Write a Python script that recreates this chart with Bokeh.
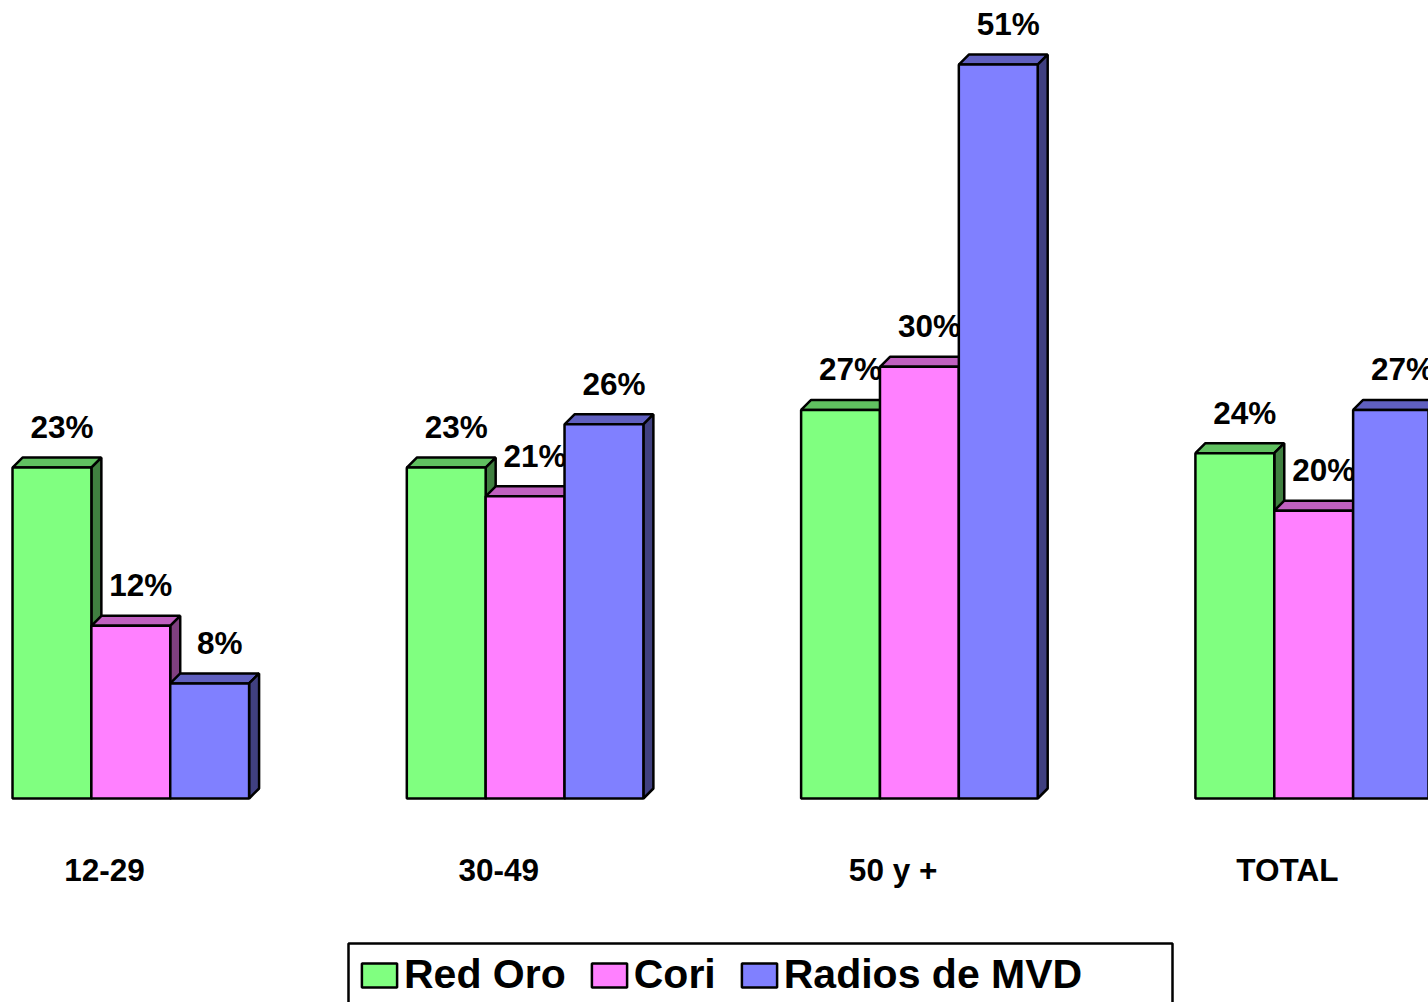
from bokeh.embed import file_html
from bokeh.resources import INLINE
from bokeh.plotting import figure
from bokeh.models import Range1d, Legend, LegendItem, BoxAnnotation
from bokeh.core.properties import value

categories = ["12-29", "30-49", "50 y +", "TOTAL"]
red_oro = [23, 23, 27, 24]
cori = [12, 21, 30, 20]
radios = [8, 26, 51, 27]
series_names = ["Red Oro", "Cori", "Radios de MVD"]
front_colors = ["#80FF80", "#FF80FF", "#8080FF"]
top_colors = ["#60C060", "#C060C0", "#6060C0"]
side_colors = ["#408040", "#804080", "#404080"]

FONT = "Liberation Sans"
PX_PER_X = 394.3
PX_PER_Y = 14.39
BAR_W = 0.2
DX = 10 / PX_PER_X
DY = 10 / PX_PER_Y
GROUP_SHIFT = -0.2333
LW = 2.5

p = figure(width=1428, height=1002, output_backend="svg", toolbar_location=None,
           x_range=Range1d(-104 / PX_PER_X, 1324 / PX_PER_X),
           y_range=Range1d(-204 / PX_PER_Y, 798 / PX_PER_Y),
           x_axis_location=None, y_axis_location=None, min_border=0,
           outline_line_color=None, background_fill_color="white", border_fill_color="white")
p.xgrid.visible = False
p.ygrid.visible = False

all_series = [red_oro, cori, radios]
lefts = [[i + GROUP_SHIFT + k * BAR_W for i in range(len(categories))] for k in range(3)]

p.text(x=list(range(len(categories))), y=[-5.0] * len(categories), text=categories,
       text_font=value(FONT), text_font_style="bold", text_font_size="31.5px",
       text_color="black", text_align="center", text_baseline="middle")

# value labels lie beneath the bars
for k, vals in enumerate(all_series):
    p.text(x=[l + BAR_W / 2 for l in lefts[k]], y=vals, text=[f"{v}%" for v in vals],
           text_font=value(FONT), text_font_style="bold", text_font_size="31.5px",
           text_color="black", text_align="center", text_baseline="alphabetic",
           x_offset=10, y_offset=-40.5)

legend_items = []
for k, vals in enumerate(all_series):
    top_x = [[l, l + DX, l + BAR_W + DX, l + BAR_W] for l in lefts[k]]
    top_y = [[v, v + DY, v + DY, v] for v in vals]
    p.patches(top_x, top_y, fill_color=top_colors[k], line_color="black", line_width=LW)
    side_x = [[l + BAR_W, l + BAR_W + DX, l + BAR_W + DX, l + BAR_W] for l in lefts[k]]
    side_y = [[0, DY, v + DY, v] for v in vals]
    p.patches(side_x, side_y, fill_color=side_colors[k], line_color="black", line_width=LW)
    r = p.vbar(x=[l + BAR_W / 2 for l in lefts[k]], width=BAR_W, bottom=0, top=vals,
               fill_color=front_colors[k], line_color="black", line_width=LW)
    legend_items.append(LegendItem(label=value(series_names[k]), renderers=[r]))

legend = Legend(items=legend_items, orientation="horizontal", location=(357, 4),
                glyph_width=44, glyph_height=30, label_standoff=3, spacing=21,
                padding=0, margin=0, border_line_color=None, background_fill_alpha=0,
                label_text_font=FONT, label_text_font_style="bold",
                label_text_font_size="41px", label_text_color="black")
p.add_layout(legend, "center")

box = BoxAnnotation(left=348, right=1172, top=59, bottom=-8,
                    left_units="screen", right_units="screen", top_units="screen",
                    bottom_units="screen", fill_alpha=0, line_color="black", line_alpha=1,
                    line_width=LW, level="overlay", editable=False)
p.add_layout(box)

open("out.html", "w").write(file_html(p, INLINE))
